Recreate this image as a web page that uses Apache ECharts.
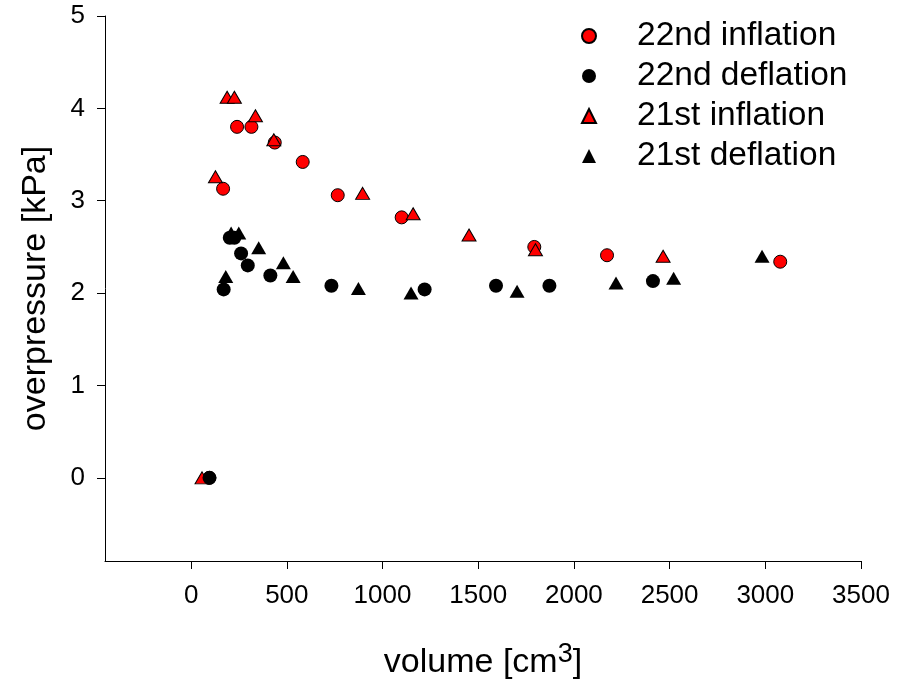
<!DOCTYPE html>
<html>
<head>
<meta charset="utf-8">
<script src="https://cdn.jsdelivr.net/npm/echarts@6/dist/echarts.min.js"></script>
<style>html,body{margin:0;padding:0;background:#fff}#c{width:900px;height:681px}</style>
</head>
<body>
<div id="c"></div>
<script>
var seriesNames = ['22nd inflation', '22nd deflation', '21st inflation', '21st deflation'];
var xTicks = [0, 500, 1000, 1500, 2000, 2500, 3000, 3500];
var yTicks = [0, 1, 2, 3, 4, 5];

var inf22Vol = [95, 167, 240, 315, 437, 583, 766, 1100, 1793, 2173, 3078];
var inf22P   = [0, 3.13, 3.80, 3.80, 3.63, 3.42, 3.06, 2.82, 2.50, 2.41, 2.34];
var def22Vol = [96, 170, 202, 226, 261, 296, 414, 733, 1220, 1593, 1872, 2413];
var def22P   = [0, 2.04, 2.60, 2.60, 2.43, 2.30, 2.19, 2.08, 2.04, 2.08, 2.08, 2.13];
var inf21Vol = [57, 127, 188, 226, 336, 432, 896, 1160, 1452, 1799, 2466];
var inf21P   = [0, 3.26, 4.12, 4.12, 3.92, 3.66, 3.08, 2.86, 2.63, 2.47, 2.40];
var def21Vol = [181, 209, 249, 353, 482, 533, 874, 1149, 1703, 2220, 2521, 2983];
var def21P   = [2.18, 2.65, 2.65, 2.49, 2.33, 2.18, 2.05, 2.00, 2.02, 2.11, 2.16, 2.40];

function pairs(xs, ys) { return xs.map(function (x, i) { return [x, ys[i]]; }); }

var FONT = '"Liberation Sans", Arial, sans-serif';
var chart = echarts.init(document.getElementById('c'), null, { renderer: 'canvas' });
chart.setOption({
  animation: false,
  backgroundColor: '#ffffff',
  grid: { left: 105, right: 39, top: 16, bottom: 120, containLabel: false, outerBoundsMode: 'none' },
  legend: {
    orient: 'vertical',
    left: 576,
    top: 11,
    itemWidth: 14,
    itemHeight: 14,
    itemGap: 0,
    data: seriesNames,
    textStyle: { fontFamily: FONT, fontSize: 33.5, color: '#000', lineHeight: 40, padding: [0, 0, 0, 36] }
  },
  xAxis: {
    type: 'value',
    min: -450,
    max: 3500,
    name: 'volume [cm{sup|3}]',
    nameLocation: 'middle',
    nameGap: 80,
    nameTextStyle: {
      fontFamily: FONT, fontSize: 34, color: '#000',
      rich: { sup: { fontFamily: FONT, fontSize: 27, color: '#000', verticalAlign: 'bottom', padding: [0, 0, 16, 0] } }
    },
    axisLine: { show: true, onZero: false, lineStyle: { color: '#000', width: 1 } },
    axisTick: { show: true, inside: false, length: 8, customValues: xTicks, lineStyle: { color: '#000', width: 1 } },
    axisLabel: { customValues: xTicks, formatter: function (v) { return String(v); }, fontFamily: FONT, fontSize: 26, color: '#000', margin: 22 },
    splitLine: { show: false }
  },
  yAxis: {
    type: 'value',
    min: -0.9,
    max: 5,
    name: 'overpressure [kPa]',
    nameLocation: 'middle',
    nameGap: 52,
    nameTextStyle: { fontFamily: FONT, fontSize: 34, color: '#000' },
    axisLine: { show: true, onZero: false, lineStyle: { color: '#000', width: 1 } },
    axisTick: { show: true, inside: false, length: 8, customValues: yTicks, lineStyle: { color: '#000', width: 1 } },
    axisLabel: { customValues: yTicks, formatter: function (v) { return String(v); }, fontFamily: FONT, fontSize: 26, color: '#000', margin: 20 },
    splitLine: { show: false }
  },
  series: [
    {
      name: seriesNames[0], type: 'scatter', symbol: 'circle', symbolSize: 13, z: 2,
      itemStyle: { color: '#ff0000', borderColor: '#000', borderWidth: 1, opacity: 1 },
      emphasis: { disabled: true },
      data: pairs(inf22Vol, inf22P)
    },
    {
      name: seriesNames[2], type: 'scatter', symbol: 'triangle', symbolSize: [14, 12], z: 3,
      itemStyle: { color: '#ff0000', borderColor: '#000', borderWidth: 1, opacity: 1 },
      emphasis: { disabled: true },
      data: pairs(inf21Vol, inf21P)
    },
    {
      name: seriesNames[1], type: 'scatter', symbol: 'circle', symbolSize: 14, z: 4,
      itemStyle: { color: '#000', borderColor: '#000', borderWidth: 0, opacity: 1 },
      emphasis: { disabled: true },
      data: pairs(def22Vol, def22P)
    },
    {
      name: seriesNames[3], type: 'scatter', symbol: 'triangle', symbolSize: [15, 13], z: 5,
      itemStyle: { color: '#000', borderColor: '#000', borderWidth: 0, opacity: 1 },
      emphasis: { disabled: true },
      data: pairs(def21Vol, def21P)
    }
  ]
});
</script>
</body>
</html>
